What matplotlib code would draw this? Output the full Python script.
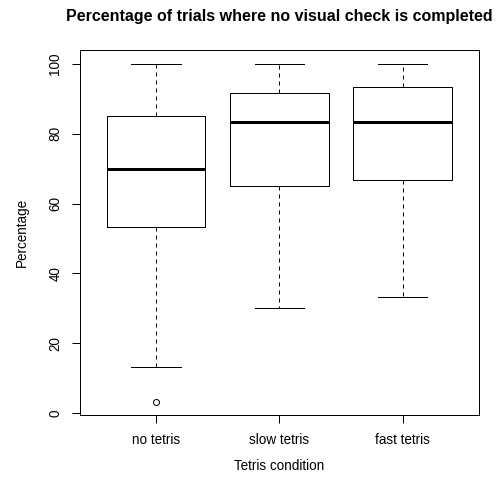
import matplotlib
matplotlib.use("Agg")
import matplotlib.pyplot as plt

plt.rcParams['font.family'] = ['Liberation Sans', 'DejaVu Sans']

categories = ["no tetris", "slow tetris", "fast tetris"]
whisker_low = [13.33, 30.0, 33.33]
q1 = [53.33, 65.0, 66.67]
medians = [70.0, 83.33, 83.33]
q3 = [85.0, 91.67, 93.33]
whisker_high = [100.0, 100.0, 100.0]
outliers = [[3.33], [], []]
yticks = [0, 20, 40, 60, 80, 100]

W, H = 504, 479
fig = plt.figure(figsize=(W / 72, H / 72), dpi=72)
top_px, bot_px, left_px, right_px = 50.5, 415.0, 79.5, 479.0
ax = fig.add_axes([left_px / W, 1 - bot_px / H, (right_px - left_px) / W, (bot_px - top_px) / H])

stats = []
for i, c in enumerate(categories):
    stats.append(dict(label=c, whislo=whisker_low[i], q1=q1[i], med=medians[i],
                      q3=q3[i], whishi=whisker_high[i], fliers=outliers[i]))

ax.bxp(stats, positions=[1, 2, 3], widths=0.8, patch_artist=False,
       boxprops=dict(color='black', linewidth=1.0),
       medianprops=dict(color='black', linewidth=3.0, solid_capstyle='butt'),
       whiskerprops=dict(color='black', linewidth=1.0, linestyle=(0, (4, 4))),
       capprops=dict(color='black', linewidth=1.0),
       capwidths=0.4,
       flierprops=dict(marker='o', markerfacecolor='none', markeredgecolor='black',
                       markersize=6, markeredgewidth=1.0))

allvals = whisker_low + whisker_high + [v for o in outliers for v in o]
lo, hi = min(allvals), max(allvals)
ext = 0.04 * (hi - lo)
ax.set_ylim(lo - ext, hi + ext)
ax.set_xlim(0.5 - 0.12, 3.5 + 0.12)

ax.set_yticks(yticks)
ax.set_yticklabels([str(t) for t in yticks], rotation=90, va='center', fontsize=13.5)
ax.set_xticks([1, 2, 3])
ax.set_xticklabels(categories, fontsize=13.5)
ax.tick_params(axis='both', length=8, width=1.0, direction='out', color='black')
ax.tick_params(axis='x', pad=10)
ax.tick_params(axis='y', pad=9)
for s in ax.spines.values():
    s.set_linewidth(1.0)
    s.set_color('black')

ax.set_title("Percentage of trials where no visual check is completed",
             fontsize=16, fontweight='bold', pad=29)
fig.text(((left_px + right_px) / 2) / W, 1 - 466 / H, "Tetris condition",
         ha='center', va='center', fontsize=13.5)
fig.text(22 / W, 1 - ((top_px + bot_px) / 2) / H, "Percentage",
         ha='center', va='center', rotation=90, fontsize=13.5)

fig.savefig("out.png", dpi=72)
